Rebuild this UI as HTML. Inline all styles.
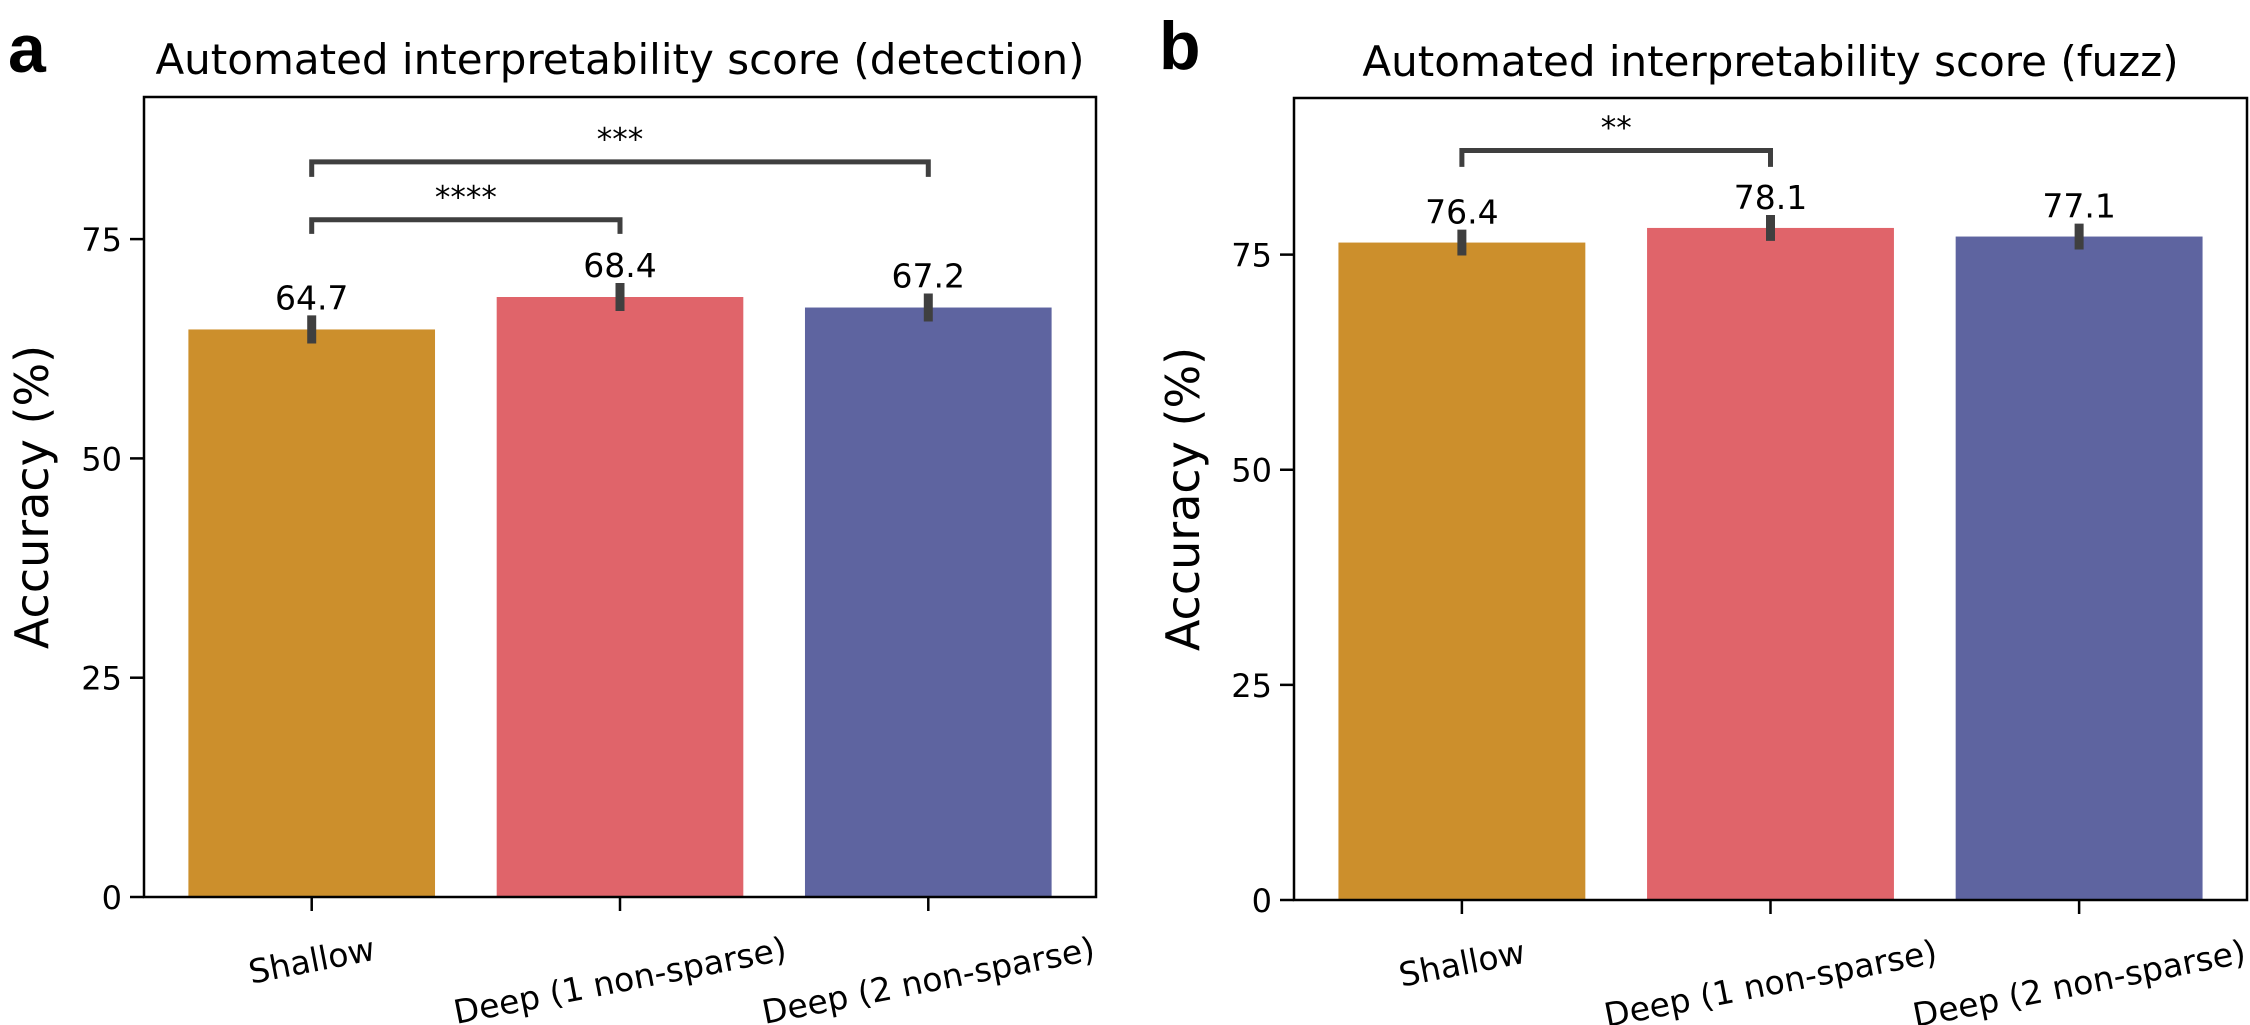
<!DOCTYPE html>
<html><head><meta charset="utf-8">
<style>
html,body{margin:0;padding:0;background:#fff;}
svg{display:block;font-family:"DejaVu Sans","Liberation Sans",sans-serif;}
</style></head>
<body>
<svg id="fig" width="2250" height="1025" viewBox="0 0 2250 1025" xmlns="http://www.w3.org/2000/svg">
<text x="8" y="72" font-family="Liberation Sans, sans-serif" font-weight="bold" font-size="68">a</text>
<text x="1159" y="69" font-family="Liberation Sans, sans-serif" font-weight="bold" font-size="68">b</text>
</svg>
<script>
const categories = ["Shallow", "Deep (1 non-sparse)", "Deep (2 non-sparse)"];
const detectionValues = [64.7, 68.4, 67.2];
const detectionErrors = [1.6, 1.6, 1.6];
const fuzzValues = [76.4, 78.1, 77.1];
const fuzzErrors = [1.5, 1.5, 1.5];
const yTicks = [0, 25, 50, 75];
const detectionBrackets = [[0, 1, 75.6, 77.2, "****"], [0, 2, 82.1, 83.8, "***"]];
const fuzzBrackets = [[0, 1, 85.2, 87.1, "**"]];
const colors = ["#CC8F2C", "#E0646A", "#5E64A0"];

const NS = "http://www.w3.org/2000/svg";
const svg = document.getElementById("fig");
function mk(tag, attrs, parent) {
  const e = document.createElementNS(NS, tag);
  for (const k in attrs) e.setAttribute(k, attrs[k]);
  (parent || svg).appendChild(e);
  return e;
}

function panel(p) {
  const g = mk("g", {});
  
  
  const xs = i => p.left + (i + 0.544) * (p.right - p.left) / 3.088;
  const ys = v => p.bottom - v * (p.bottom - p.top) / p.ymax;
  const bw = 0.8 * (p.right - p.left) / 3.088;
  p.values.forEach((v, i) => {
    const r = mk("rect", {x: xs(i) - bw / 2, y: ys(v), width: bw, height: ys(0) - ys(v), fill: colors[i]}, g);
    
    
  });
  p.values.forEach((v, i) => {
    const e = mk("line", {x1: xs(i), x2: xs(i), y1: ys(v - p.errors[i]), y2: ys(v + p.errors[i]), stroke: "#3f3f3f", "stroke-width": 9}, g);
    
    
    const t = mk("text", {x: xs(i), y: ys(v + p.errors[i]) - 6, "text-anchor": "middle", "font-size": 33, fill: "#000"}, g);
    t.textContent = v.toFixed(1);
    
    
  });
  p.brackets.forEach(b => {
    const x1 = xs(b[0]), x2 = xs(b[1]), yl = ys(b[2]), yh = ys(b[3]);
    const pl = mk("polyline", {points: `${x1},${yl} ${x1},${yh} ${x2},${yh} ${x2},${yl}`, fill: "none", stroke: "#3f3f3f", "stroke-width": 5}, g);
    
    
    const t = mk("text", {x: (x1 + x2) / 2, y: yh - 12, "text-anchor": "middle", "font-size": 31}, g);
    t.textContent = b[4];
    
    
  });
  const fr = mk("rect", {x: p.left, y: p.top, width: p.right - p.left, height: p.bottom - p.top, fill: "none", stroke: "#000", "stroke-width": 2.5}, g);
  
  
  yTicks.forEach(v => {
    const l = mk("line", {x1: p.left - 14, x2: p.left, y1: ys(v), y2: ys(v), stroke: "#000", "stroke-width": 2.5}, g);
    
    
    const t = mk("text", {x: p.left - 22, y: ys(v) + 12, "text-anchor": "end", "font-size": 32}, g);
    t.textContent = String(v);
    
    
  });
  categories.forEach((c, i) => {
    const l = mk("line", {x1: xs(i), x2: xs(i), y1: p.bottom, y2: p.bottom + 14, stroke: "#000", "stroke-width": 2.5}, g);
    
    
    const t = mk("text", {"text-anchor": "middle", "dominant-baseline": "central", "font-size": 33}, g);
    t.textContent = c;
    
    
    const w = t.getComputedTextLength();
    const th = 11 * Math.PI / 180;
    const H = w * Math.sin(th) + 37 * Math.cos(th);
    const cy = p.bottom + 33 + H / 2;
    t.setAttribute("transform", `translate(${xs(i)},${cy}) rotate(-11)`);
  });
  const tt = mk("text", {x: (p.left + p.right) / 2, y: p.titleY, "text-anchor": "middle", "font-size": 42}, g);
  tt.textContent = p.title;
  
  
  const yl = mk("text", {"text-anchor": "middle", "font-size": 46, transform: `translate(${p.ylabelX},${(p.top + p.bottom) / 2}) rotate(-90)`}, g);
  yl.textContent = "Accuracy (%)";
  
  
}

panel({id: "detection", left: 144, right: 1096, top: 97, bottom: 897, ymax: 91.2, values: detectionValues, errors: detectionErrors, brackets: detectionBrackets, title: "Automated interpretability score (detection)", titleY: 74, ylabelX: 48});
panel({id: "fuzz", left: 1294, right: 2247, top: 98, bottom: 900, ymax: 93.2, values: fuzzValues, errors: fuzzErrors, brackets: fuzzBrackets, title: "Automated interpretability score (fuzz)", titleY: 76, ylabelX: 1199});
</script>
</body></html>
